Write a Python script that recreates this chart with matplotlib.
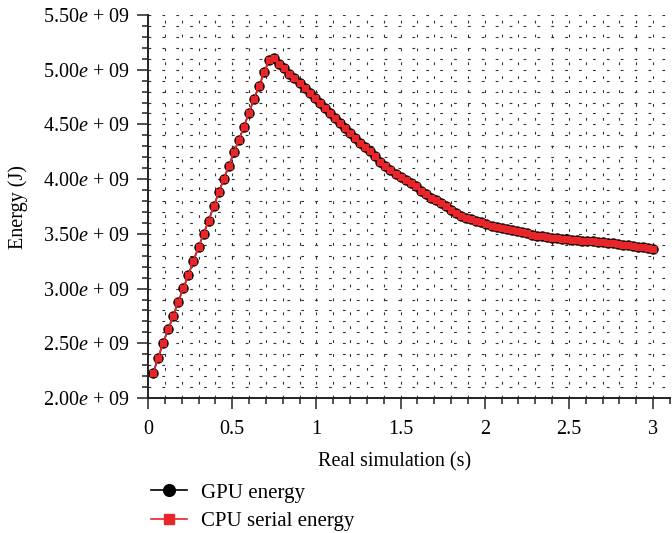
import numpy as np
import matplotlib
matplotlib.use("Agg")
import matplotlib.pyplot as plt
from matplotlib.ticker import MultipleLocator, FixedLocator, FixedFormatter

plt.rcParams['font.family'] = ['Liberation Serif', 'DejaVu Serif']
plt.rcParams['mathtext.fontset'] = 'custom'
plt.rcParams['mathtext.it'] = 'Liberation Serif:italic'
plt.rcParams['mathtext.rm'] = 'Liberation Serif'

# ---- data (energy in units of 1e9 J) ----
time_s = np.round(np.arange(1, 101) * 0.03, 2)
gpu_energy_e9 = [
    2.226, 2.363, 2.506, 2.628, 2.750, 2.881, 3.003, 3.125, 3.256, 3.378,
    3.500, 3.622, 3.750, 3.878, 4.000, 4.122, 4.244, 4.360, 4.481, 4.609,
    4.732, 4.854, 4.975, 5.091, 5.107,
    5.055, 5.015, 4.963, 4.924, 4.878, 4.833, 4.787, 4.742, 4.696, 4.650,
    4.605, 4.559, 4.515, 4.470,
    4.421, 4.375, 4.330, 4.293, 4.253, 4.207, 4.161, 4.122, 4.085, 4.049,
    4.020, 3.990,
    3.963, 3.933, 3.896, 3.863, 3.832, 3.805, 3.781, 3.750, 3.720, 3.689,
    3.667, 3.649, 3.637, 3.622, 3.607, 3.591, 3.576, 3.567, 3.558, 3.546,
    3.534, 3.525, 3.516,
    3.505, 3.491, 3.482, 3.476, 3.470, 3.463, 3.460, 3.454, 3.451, 3.448,
    3.445, 3.439, 3.436, 3.433, 3.430, 3.427, 3.421, 3.415, 3.409, 3.402,
    3.399, 3.390, 3.384, 3.378, 3.369, 3.360,
]
cpu_energy_e9 = list(gpu_energy_e9)

x_ticks = [0, 0.5, 1, 1.5, 2, 2.5, 3]
x_tick_labels = ["0", "0.5", "1", "1.5", "2", "2.5", "3"]
y_ticks_e9 = [2.0, 2.5, 3.0, 3.5, 4.0, 4.5, 5.0, 5.5]
y_tick_labels = [f"{v:.2f}$e$ + 09" for v in y_ticks_e9]
series_names = ["GPU energy", "CPU serial energy"]

gpu_energy = np.array(gpu_energy_e9) * 1e9
cpu_energy = np.array(cpu_energy_e9) * 1e9
y_ticks = [v * 1e9 for v in y_ticks_e9]

# ---- figure ----
fig = plt.figure(figsize=(6.72, 5.33), dpi=100)
ax = fig.add_axes([148 / 672, 1 - 398 / 533, (670 - 148) / 672, (398 - 15) / 533])

red = '#e8262a'
l1, = ax.plot(time_s, gpu_energy, color='black', lw=1.2, marker='o', ms=6.5,
              mfc='black', mec='black', zorder=3, label=series_names[0])
l2, = ax.plot(time_s, cpu_energy, color=red, lw=1.2, marker='s', ms=5,
              mfc=red, mec=red, zorder=4, label=series_names[1])

ax.set_xlim(0, 3.1)
ax.set_ylim(2.0e9, 5.5e9)

ax.xaxis.set_major_locator(FixedLocator(x_ticks))
ax.xaxis.set_major_formatter(FixedFormatter(x_tick_labels))
ax.xaxis.set_minor_locator(MultipleLocator(0.1))
ax.yaxis.set_major_locator(FixedLocator(y_ticks))
ax.yaxis.set_major_formatter(FixedFormatter(y_tick_labels))
ax.yaxis.set_minor_locator(MultipleLocator(0.1e9))

for s in ['top', 'right']:
    ax.spines[s].set_visible(False)
for s in ['left', 'bottom']:
    ax.spines[s].set_linewidth(1.4)
    ax.spines[s].set_color('#222222')

ax.tick_params(which='major', direction='out', length=8, width=1.1,
               color='#222222', labelsize=14.5, pad=5)
ax.tick_params(which='minor', direction='out', length=4.5, width=1.1,
               color='#222222')
ax.tick_params(axis='x', which='major', pad=8)

ax.grid(True, which='both', linestyle=(0, (2.5, 10)), linewidth=0.8,
        color='#333333', zorder=0)
ax.set_axisbelow(True)

fig.text(18 / 672, 1 - 207 / 533, "Energy (J)", rotation=90, ha='center',
         va='center', fontsize=14.5)
fig.text(395 / 672, 1 - 462 / 533, "Real simulation (s)", ha='center',
         va='center', fontsize=14.5)

fig.legend(handles=[l1, l2], loc='upper left',
           bbox_to_anchor=(151 / 672, 1 - 483 / 533), frameon=False,
           fontsize=15, handlelength=1.75, handletextpad=0.65,
           labelspacing=0.42, borderaxespad=0, borderpad=0,
           markerscale=1.3)

fig.savefig("out.png", dpi=100)
